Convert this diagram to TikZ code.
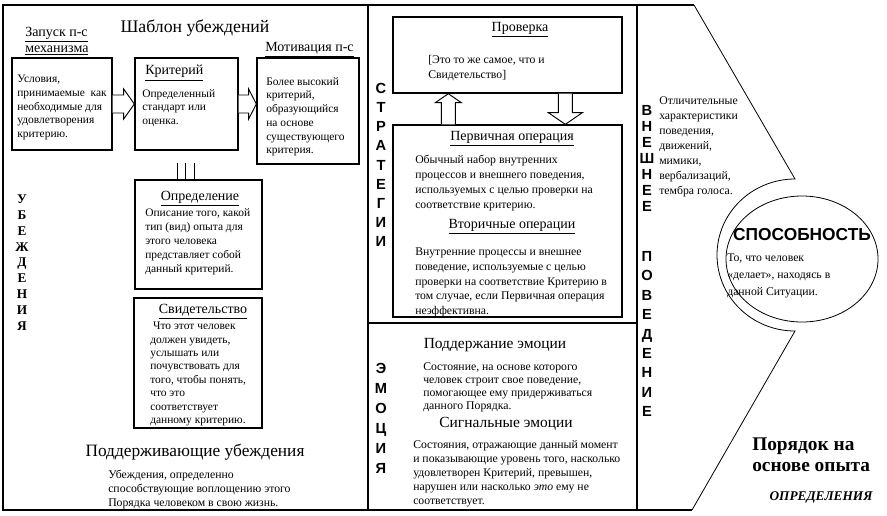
\documentclass[tikz,border=0pt]{standalone}
\usepackage{fontspec}
\setmainfont{Liberation Serif}
\setsansfont{Liberation Sans}
\usetikzlibrary{calc}
\newdimen\pxu \pxu=0.75pt
\begin{document}
\begin{tikzpicture}[x=0.75pt,y=-0.75pt,
  frame/.style={line width=1pt},
  thin/.style={line width=0.6pt},
  box/.style={draw, line width=1pt, inner sep=0pt},
  barrow/.style={draw, fill=white, line width=0.7pt, line join=miter},
  body/.style={anchor=north west, inner sep=0pt, align=left, font=\fontsize{8.6}{10.3}\selectfont},
  bodym/.style={anchor=north west, inner sep=0pt, align=left, font=\fontsize{8.8}{11.25}\selectfont},
  head/.style={inner sep=0pt, font=\fontsize{10.5}{12}\selectfont},
  big/.style={inner sep=0pt, font=\fontsize{13.3}{15}\selectfont},
  mid/.style={inner sep=0pt, font=\fontsize{11.6}{14}\selectfont},
  vlet/.style={inner sep=0pt, align=center},
]
\useasboundingbox (0,0) rectangle (887,515);
% frame
\draw[frame] (694,5) -- (3,5) -- (3,510) -- (692,510);
\draw[frame] (368,5) -- (368,510);
\draw[frame] (637,5) -- (637,510);
\draw[frame] (368,323) -- (637,323);
\draw[thin] (694,5) -- (795,179) arc[start angle=-90, end angle=-270, x radius=78, y radius=76] -- (692,510);
\draw[thin] (802,259) ellipse [x radius=76, y radius=63];

% ---------- left panel
\node[big] (title) at (195,28) {Шаблон убеждений};
\node[head, anchor=north west, align=left, font=\fontsize{10.5}{12}\selectfont] (zap) at (25,27) {\underline{Запуск п-с}\\\underline{механизма}};
\node[head, anchor=west] (mot) at (265,50) {\underline{Мотивация п-с}};

\node[box, minimum width=100\pxu, minimum height=92\pxu] (b1) at (62,104) {};
\node[box, minimum width=103\pxu, minimum height=92\pxu] (b2) at (186.5,104) {};
\node[box, minimum width=102\pxu, minimum height=106\pxu] (b3) at (308,111) {};

\node[body] (t1) at (17,75) {Условия,\\принимаемые\ \ как\\необходимые для\\удовлетворения\\критерию.};
\node[head, anchor=west] (krit) at (145,73) {\underline{Критерий}};
\node[body] (t2) at (142,89) {Определенный\\стандарт или\\оценка.};
\node[body] (t3) at (266,77) {Более высокий\\критерий,\\образующийся\\на основе\\существующего\\критерия.};

\draw[barrow] ($(b1.east)+(0,-9)$) -- ($(b1.east)+(11,-9)$) -- ($(b1.east)+(11,-15)$) -- (b2.west)
  -- ($(b1.east)+(11,15)$) -- ($(b1.east)+(11,9)$) -- ($(b1.east)+(0,9)$);
\draw[barrow] ($(b2.east)+(0,-9)$) -- ($(b2.east)+(10,-9)$) -- ($(b2.east)+(10,-15)$) -- (b3.west |- b2.east)
  -- ($(b2.east)+(10,15)$) -- ($(b2.east)+(10,9)$) -- ($(b2.east)+(0,9)$);

\node[box, minimum width=127\pxu, minimum height=109\pxu] (bdef) at (198.5,234.5) {};
\foreach \dx in {-9,-1,8}
  \draw[line width=0.8pt] ($(b2.south)+(\dx,12)$) -- ($(b2.south)+(\dx,30)$);
\node[head] (deft) at (200,199) {\underline{Определение}};
\node[body, font=\fontsize{8.6}{10.5}\selectfont] (defx) at (145,208) {Описание того, какой\\тип (вид) опыта для\\этого человека\\представляет собой\\данный критерий.};

\node[box, minimum width=128\pxu, minimum height=130\pxu] (bsv) at (198,363) {};
\node[head] (svt) at (203,312) {\underline{Свидетельство}};
\node[body, font=\fontsize{8.6}{10.05}\selectfont] (svx) at (150,322) {\ Что этот человек\\должен увидеть,\\услышать или\\почувствовать для\\того, чтобы понять,\\что это\\соответствует\\данному критерию.};

\node[vlet, font=\bfseries\fontsize{10}{11.9}\selectfont] (ub) at (22,262.5) {У\\Б\\Е\\Ж\\Д\\Е\\Н\\И\\Я};

\node[big, font=\fontsize{13}{15}\selectfont] (podt) at (195,452) {Поддерживающие убеждения};
\node[body, font=\fontsize{8.8}{10.5}\selectfont] (podx) at (108,470) {Убеждения, определенно\\способствующие воплощению этого\\Порядка человеком в свою жизнь.};

% ---------- middle panel
\node[box, minimum width=229\pxu, minimum height=76\pxu] (bv) at (507.5,55) {};
\node[head] (bvt) at (520,30) {\underline{Проверка}};
\node[bodym] (bvx) at (428,55) {[Это то же самое, что и\\Свидетельство]};

\node[box, minimum width=229\pxu, minimum height=192\pxu] (bp) at (507.5,221) {};
\node[head] (bpt) at (512,139) {\underline{Первичная операция}};
\node[bodym] (bpx) at (415,155) {Обычный набор внутренних\\процессов и внешнего поведения,\\используемых с целью проверки на\\соответствие критерию.};
\node[head] (bst) at (512,227) {\underline{Вторичные операции}};
\node[bodym, font=\fontsize{8.8}{10.9}\selectfont] (bsx) at (415,248) {Внутренние процессы и внешнее\\поведение, используемые с целью\\проверки на соответствие Критерию в\\том случае, если Первичная операция\\неэффективна.};

% up arrow (from bp to bv)
\draw[barrow] ($(bp.north west)+(49,0)$) -- ($(bv.south west)+(49,9)$) -- ($(bv.south west)+(43,9)$)
  -- ($(bv.south west)+(56,0)$) -- ($(bv.south west)+(69,9)$) -- ($(bv.south west)+(63,9)$) -- ($(bp.north west)+(63,0)$);
% down arrow (from bv to bp)
\draw[barrow] ($(bv.south west)+(166,0)$) -- ($(bv.south west)+(166,19)$) -- ($(bv.south west)+(156,19)$)
  -- ($(bp.north west)+(173,0)$) -- ($(bv.south west)+(190,19)$) -- ($(bv.south west)+(180,19)$) -- ($(bv.south west)+(180,0)$);

\node[vlet, font=\bfseries\sffamily\fontsize{11}{14.4}\selectfont] (str) at (381,165) {С\\Т\\Р\\А\\Т\\Е\\Г\\И\\И};
\node[vlet, font=\bfseries\sffamily\fontsize{11}{15}\selectfont] (emo) at (381,418) {Э\\М\\О\\Ц\\И\\Я};

\node[mid] (emt1) at (495,345) {Поддержание эмоции};
\node[bodym, font=\fontsize{8.8}{9.9}\selectfont] (emx1) at (423,362) {Состояние, на основе которого\\человек строит свое поведение,\\помогающее ему придерживаться\\данного Порядка.};
\node[mid] (emt2) at (506,424) {Сигнальные эмоции};
\node[bodym, font=\fontsize{8.8}{10.6}\selectfont] (emx2) at (413,440) {Состояния, отражающие данный момент\\и показывающие уровень того, насколько\\удовлетворен Критерий, превышен,\\нарушен или насколько \textit{это} ему не\\соответствует.};

% ---------- right panel
\node[vlet, font=\bfseries\sffamily\fontsize{11}{12}\selectfont] (vn1) at (647,158) {В\\Н\\Е\\Ш\\Н\\Е\\Е};
\node[vlet, font=\bfseries\sffamily\fontsize{11}{14.6}\selectfont] (vn2) at (647,334) {П\\О\\В\\Е\\Д\\Е\\Н\\И\\Е};
\node[bodym] (vnx) at (659,96) {Отличительные\\характеристики\\поведения,\\движений,\\мимики,\\вербализаций,\\тембра голоса.};

\node[inner sep=0pt, font=\bfseries\sffamily\fontsize{13}{15}\selectfont] (spo) at (802,235) {СПОСОБНОСТЬ};
\node[bodym, font=\fontsize{8.8}{12.4}\selectfont] (spx) at (727,254) {То, что человек\\«делает», находясь в\\данной Ситуации.};

\node[anchor=north west, inner sep=0pt, align=left, font=\bfseries\fontsize{14.5}{15.75}\selectfont] (por) at (752,438) {Порядок на\\основе опыта};
\node[inner sep=0pt, font=\bfseries\itshape\fontsize{10}{12}\selectfont] (opr) at (821,497) {ОПРЕДЕЛЕНИЯ};
\end{tikzpicture}
\end{document}
